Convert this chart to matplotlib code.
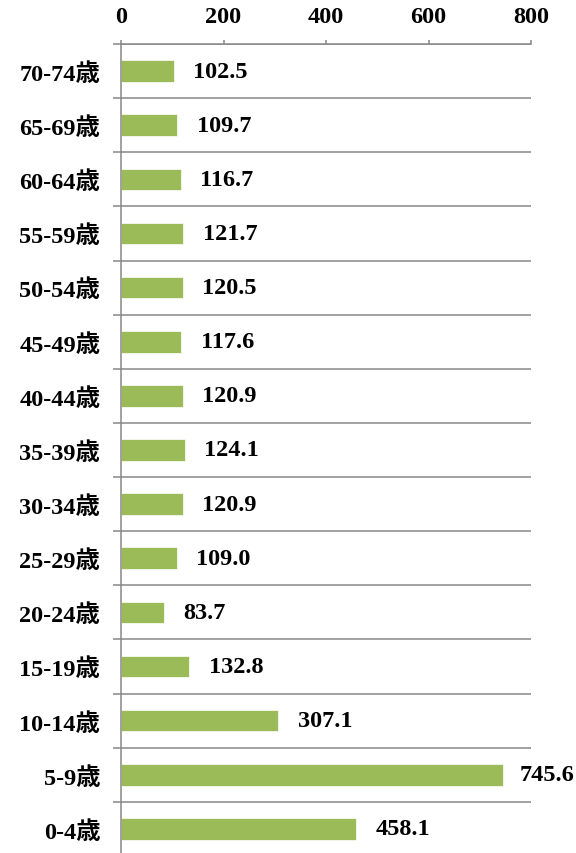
import matplotlib
matplotlib.use("Agg")
import matplotlib.pyplot as plt
import numpy as np

plt.rcParams['font.family'] = ['Liberation Serif', 'Noto Sans CJK JP']

# age groups, bottom to top
ages = ["0-4歳", "5-9歳", "10-14歳", "15-19歳", "20-24歳", "25-29歳", "30-34歳",
        "35-39歳", "40-44歳", "45-49歳", "50-54歳", "55-59歳", "60-64歳",
        "65-69歳", "70-74歳"]
values = [458.1, 745.6, 307.1, 132.8, 83.7, 109.0, 120.9,
          124.1, 120.9, 117.6, 120.5, 121.7, 116.7, 109.7, 102.5]
xticks = [0, 200, 400, 600, 800]

GREEN = "#9BBB59"
GRID = "#878787"
FS = 17.5
FW = "bold"

fig = plt.figure(figsize=(5.76, 8.54), dpi=100)
ax = fig.add_axes([121 / 576, 1 - 857 / 854, 410 / 576, 812 / 854])

y = np.arange(len(ages))
ax.barh(y, values, height=0.4, color=GREEN, edgecolor="white", linewidth=0.5, zorder=3)

ax.set_xlim(0, 800)
ax.set_ylim(-0.5, len(ages) - 0.5)

# x axis on top
ax.xaxis.tick_top()
ax.set_xticks(xticks)
ax.set_xticklabels([str(v) for v in xticks], fontsize=FS, fontweight=FW)
ax.tick_params(axis="x", direction="out", length=3, width=1.1, color=GRID, pad=9)

# categories
ax.set_yticks(y)
ax.set_yticklabels(ages, fontsize=FS, fontweight=FW)
ax.tick_params(axis="y", which="major", length=0, pad=15)
ax.set_yticks(np.arange(len(ages) + 1) - 0.5, minor=True)
ax.tick_params(axis="y", which="minor", direction="out", length=5.5, width=1.1, color=GRID)

# horizontal grid lines between categories
for b in np.arange(len(ages) + 1) - 0.5:
    ax.axhline(b, color=GRID, lw=1.1, zorder=1)

for s in ["right", "bottom"]:
    ax.spines[s].set_visible(False)
ax.spines["top"].set_color(GRID)
ax.spines["top"].set_linewidth(1.1)
ax.spines["left"].set_color(GRID)
ax.spines["left"].set_linewidth(1.1)
ax.spines["left"].set_zorder(4)

# value labels
texts = []
for yi, v in zip(y, values):
    t = ax.annotate(f"{v:.1f}", xy=(v, yi), xytext=(14, 0), textcoords="offset points",
                    ha="left", va="center", fontsize=FS, fontweight=FW,
                    annotation_clip=False)
    texts.append(t)

fig.canvas.draw()
r = fig.canvas.get_renderer()
W = fig.bbox.width
for t in texts:
    bb = t.get_window_extent(r)
    if bb.x1 > W - 2:
        shift = (bb.x1 - (W - 2)) * 72 / fig.dpi
        t.set_position((14 - shift, 0))

fig.savefig("out.png", dpi=100)
